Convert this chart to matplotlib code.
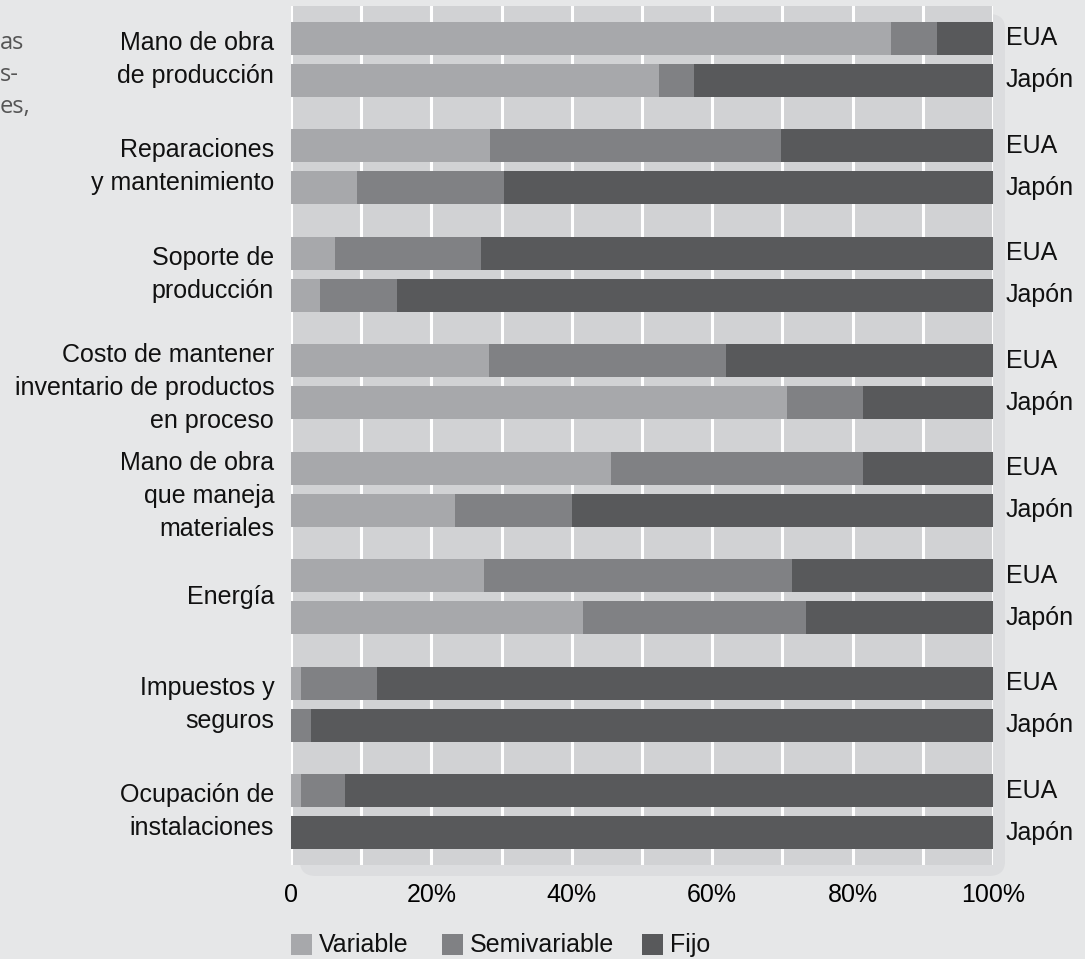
import matplotlib.pyplot as plt
import numpy as np
from matplotlib.patches import FancyBboxPatch, Rectangle

plt.rcParams['font.family'] = ['Liberation Sans', 'DejaVu Sans']

categories = ['Mano de obra\nde producción', 'Reparaciones\ny mantenimiento',
              'Soporte de\nproducción', 'Costo de mantener\ninventario de productos\nen proceso',
              'Mano de obra\nque maneja\nmateriales', 'Energía',
              'Impuestos y\nseguros', 'Ocupación de\ninstalaciones']
countries = ['EUA', 'Japón']

# percentages per category: (EUA, Japón)
variable = [(85.5, 52.4), (28.3, 9.4), (6.3, 4.1), (28.2, 70.7),
            (45.6, 23.4), (27.5, 41.6), (1.4, 0.0), (1.4, 0.0)]
semivariable = [(6.5, 5.0), (41.5, 20.9), (20.8, 11.0), (33.8, 10.8),
                (35.9, 16.6), (43.9, 31.8), (10.9, 2.8), (6.3, 0.0)]
fijo = [(8.0, 42.6), (30.2, 69.7), (72.9, 84.9), (38.0, 18.5),
        (18.5, 60.0), (28.6, 26.6), (87.7, 97.2), (92.3, 100.0)]

series_names = ['Variable', 'Semivariable', 'Fijo']
colors = ['#a7a8ab', '#808184', '#58595b']

bg = '#e6e7e8'
fs = 18
W, H = 1085, 959
fig = plt.figure(figsize=(W / 100, H / 100), dpi=100, facecolor=bg)

# soft shadow behind the panel
shadow = FancyBboxPatch((300 / W, 1 - 876 / H), 705 / W, 862 / H,
                        boxstyle='round,pad=0,rounding_size=0.015',
                        transform=fig.transFigure, facecolor='#dcdddf',
                        edgecolor='none', zorder=-5)
fig.patches.append(shadow)

ax = fig.add_axes([291 / W, 1 - 865 / H, 702 / W, 859 / H])
ax.set_zorder(2)
ax.set_facecolor('#d1d2d4')

offset = 0.39
height = 0.31
n = len(categories)
ypos = []
for i in range(n):
    ypos.append(i)
    ypos.append(i + offset)
ypos = np.array(ypos)

v = np.array(variable).flatten()
s = np.array(semivariable).flatten()
f = np.array(fijo).flatten()

left = np.zeros(len(v))
for vals, c in zip([v, s, f], colors):
    ax.barh(ypos, vals, left=left, height=height, color=c, zorder=3)
    left = left + vals

ax.set_xlim(0, 100)
ax.set_ylim(n - 1 + offset + 0.30, -0.30)
ax.set_xticks([0, 20, 40, 60, 80, 100])
ax.set_xticks(np.arange(10, 100, 20), minor=True)
ax.grid(axis='x', which='both', color='white', linewidth=2.2, zorder=1)
ax.set_axisbelow(True)
ax.set_xticklabels(['0', '20%', '40%', '60%', '80%', '100%'])
ax.tick_params(axis='x', which='both', length=0, pad=13, labelsize=fs)
ax.set_yticks([])
for sp in ax.spines.values():
    sp.set_visible(False)

# category labels on the left
for i, cat in enumerate(categories):
    shift = 0.06 if cat.count('\n') == 2 else 0.0
    ax.text(-2.4, i + offset / 2 + shift, cat, ha='right', va='center', fontsize=fs,
            linespacing=1.47, color='#111111')

# country labels on the right
for y, lab in zip(ypos, countries * n):
    ax.text(101.8, y, lab, ha='left', va='center', fontsize=fs, color='#111111')

# cut-off text on the far left
for y, t in zip([43, 75, 107], ['as', 's-', 'es,']):
    fig.text(0.0, 1 - y / H, t, ha='left', va='center', fontsize=17,
             color='#555555', family=['Open Sans', 'DejaVu Sans'])

# legend
leg_x = [291, 442, 642]
for x, name, c in zip(leg_x, series_names, colors):
    fig.patches.append(Rectangle((x / W, 1 - 955 / H), 21 / W, 21 / H,
                                 transform=fig.transFigure, facecolor=c,
                                 edgecolor='none', zorder=3))
    fig.text((x + 28) / W, 1 - 945 / H, name, ha='left', va='center',
             fontsize=fs, color='#111111')

fig.savefig('out.png', dpi=100, facecolor=bg)
